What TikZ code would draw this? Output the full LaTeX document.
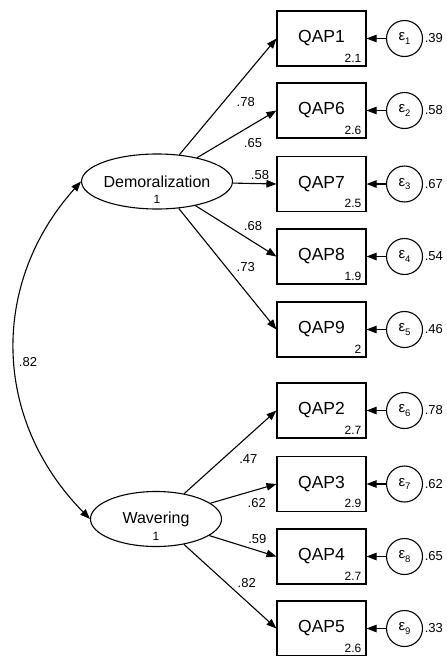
\documentclass[tikz,border=0pt]{standalone}
\usepackage{fontspec}
\setmainfont{Liberation Sans}
\usetikzlibrary{shapes.geometric,arrows.meta}
\newcommand{\errsub}[1]{\raisebox{-3.5pt}{\fontsize{9.5}{9.5}\selectfont #1}}
\begin{document}
\begin{tikzpicture}[x=1pt,y=-1pt,
  obs/.style={draw, line width=1.1pt, minimum width=89pt, minimum height=55pt, inner sep=0pt, font=\fontsize{17.5}{18}\selectfont},
  lat/.style={draw, ellipse, line width=1.1pt, minimum width=131pt, minimum height=55pt, inner sep=0pt, font=\fontsize{16}{16}\selectfont},
  err/.style={draw, circle, line width=1.1pt, minimum size=36pt, inner sep=0pt, font=\fontsize{15}{15}\selectfont},
  cons/.style={font=\fontsize{12}{12}\selectfont, inner sep=0pt, anchor=south east},
  coef/.style={font=\fontsize{13}{13}\selectfont, inner sep=0pt},
  conn/.style={line width=1.1pt, -{Triangle[length=10pt,width=7.5pt]}},
  cov/.style={line width=1.1pt, {Triangle[length=10pt,width=7.5pt]}-{Triangle[length=10pt,width=7.5pt]}},
]
\useasboundingbox (0,0) rectangle (447,656);
\foreach \i/\n/\y/\c/\e in {1/1/38.5/2.1/.39, 2/6/110.5/2.6/.58, 3/7/184/2.5/.67, 4/8/256.5/1.9/.54, 5/9/329.5/2/.46, 6/2/410.5/2.7/.78, 7/3/484/2.9/.62, 8/4/556.5/2.7/.65, 9/5/628.5/2.6/.33} {
  \node[obs] (b\i) at (321.5,\y) {QAP\n};
  \node[cons] (c\i) at ([xshift=-5pt,yshift=4pt]b\i.south east) {\c};
  \node[err] (e\i) at (404.5,\y) {ε\errsub{\i}};
  \node[coef, anchor=west] (v\i) at ([xshift=1.5pt]e\i.east) {\e};
  \draw[conn] (e\i) -- (b\i);
}
\node[lat] (D) at (157,181.5) {Demoralization};
\node[cons, anchor=center] (Dv) at (157,199) {1};
\node[lat] (W) at (156,519) {Wavering};
\node[cons, anchor=center] (Wv) at (156,536) {1};
\foreach \i in {1,...,5} { \draw[conn] (D) -- (b\i.west); }
\foreach \i in {6,...,9} { \draw[conn] (W) -- (b\i.west); }
\draw[cov] (D.west) .. controls (-9,282) and (-9,418) .. (W.west);
\node[coef] (l1) at (245.7,101.7) {.78};
\node[coef] (l2) at (253,143) {.65};
\node[coef] (l3) at (260,175) {.58};
\node[coef] (l4) at (253,226) {.68};
\node[coef] (l5) at (245.7,267) {.73};
\node[coef] (l6) at (248.3,459) {.47};
\node[coef] (l7) at (256.7,503.3) {.62};
\node[coef] (l8) at (257.3,539.3) {.59};
\node[coef] (l9) at (246.7,582.7) {.82};
\node[coef] (lc) at (28,361.7) {.82};
\end{tikzpicture}
\end{document}
